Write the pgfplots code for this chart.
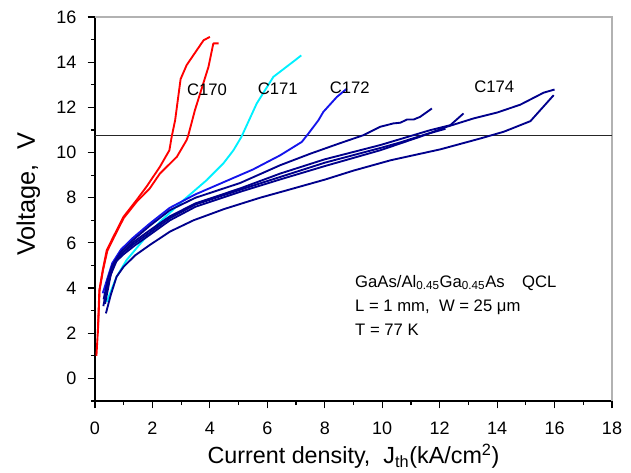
\documentclass[border=0pt]{standalone}
\usepackage{fontspec}
\setmainfont{Liberation Sans}
\usepackage{pgfplots}
\pgfplotsset{compat=1.18}
\definecolor{c170}{RGB}{255,0,0}
\definecolor{c171}{RGB}{0,240,255}
\definecolor{c172}{RGB}{20,20,235}
\definecolor{c174}{RGB}{0,0,140}

\begin{document}
\begin{tikzpicture}
\begin{axis}[
  name=main,
  scale only axis, width=387.75pt, height=288pt,
  xmin=0, xmax=18, ymin=-1, ymax=16,
  axis lines*=left, axis line style={-, line width=1.1pt},
  tick align=outside, major tick length=5.5pt, minor tick length=3pt,
  tick style={line width=0.9pt, black},
  xtick={0,2,...,18}, minor xtick={1,3,...,17},
  ytick={0,2,...,16}, minor ytick={-1,1,...,15},
  ticklabel style={font=\fontsize{13.5}{16}\selectfont},
  /pgf/number format/assume math mode=true,
  xticklabel shift=7pt, yticklabel shift=5pt,
  xlabel={Current density,\ \ J\textsubscript{th}(kA/cm\textsuperscript{2})},
  ylabel={Voltage,\ \ V},
  xlabel style={at={([yshift=-47pt]axis description cs:0.5,0)}, anchor=base,
    font=\fontsize{17.5}{20}\selectfont},
  ylabel style={at={([xshift=-45pt,yshift=11pt]axis description cs:0,0.5)}, anchor=base,
    rotate=0, font=\fontsize{19}{22}\selectfont},
  every axis plot/.append style={line width=1.4pt, line join=round},
  clip=false,
]
% frame on top and right
\draw[gray!60, line width=0.8pt] (rel axis cs:0,1) -- (rel axis cs:1,1) -- (rel axis cs:1,0);

% horizontal marker line
\addplot[black!85, line width=0.8pt] coordinates {(0,10.77) (18,10.77)};

% C170
\addplot[c170] coordinates {(0.05,1.0)(0.1,2.1)(0.15,3.9)(0.27,4.8)(0.41,5.68)(0.64,6.27)(0.99,7.15)(1.45,7.9)(1.8,8.5)(2.26,9.37)(2.59,10.1)(2.67,10.7)(2.79,11.43)(2.98,13.25)(3.19,13.87)(3.78,14.97)(4.0,15.12)};
\addplot[c170] coordinates {(0.1,2.0)(0.16,3.9)(0.28,4.8)(0.43,5.65)(0.66,6.25)(1.0,7.1)(1.45,7.82)(1.9,8.4)(2.26,9.07)(2.85,9.81)(3.19,10.55)(3.25,10.77)(3.48,11.88)(3.95,13.79)(4.12,14.83)(4.3,14.83)};

% C171
\addplot[c171] coordinates {(0.41,3.39)(0.75,4.5)(1.10,5.24)(1.68,6.12)(2.26,6.93)(3.08,7.89)(3.89,8.78)(4.47,9.52)(4.82,10.1)(5.1,10.7)(5.63,12.17)(6.21,13.35)(6.97,14.09)(7.18,14.3)};

% C172
\addplot[c172] coordinates {(0.27,3.77)(0.45,4.5)(0.6,5.1)(0.9,5.7)(1.3,6.2)(1.9,6.85)(2.6,7.55)(3.5,8.15)(4.5,8.7)(5.5,9.25)(6.45,9.88)(7.2,10.47)(7.43,10.84)(7.78,11.43)(7.95,11.8)(8.42,12.46)(8.77,12.83)};

% C174 group
\addplot[c174] coordinates {(0.3,3.5)(0.45,4.4)(0.6,5.0)(0.9,5.6)(1.3,6.1)(1.9,6.75)(2.61,7.45)(3.5,8.0)(5.05,8.65)(6.45,9.44)(7.5,9.95)(8.5,10.4)(9.35,10.77)(9.93,11.14)(10.39,11.29)(10.63,11.32)(10.86,11.46)(11.09,11.46)(11.32,11.58)(11.73,11.95)};
\addplot[c174] coordinates {(0.29,3.2)(0.45,4.2)(0.65,5.0)(0.9,5.5)(1.3,6.0)(1.9,6.55)(2.61,7.18)(3.5,7.75)(5.05,8.41)(6.45,9.07)(8.0,9.7)(9.93,10.33)(11.09,10.77)(11.67,10.99)(12.37,11.21)(12.83,11.73)};
\addplot[c174] coordinates {(0.33,3.4)(0.5,4.5)(0.7,5.2)(1.0,5.6)(1.4,6.0)(1.9,6.45)(2.61,7.1)(3.5,7.7)(5.05,8.35)(6.45,8.92)(8.0,9.55)(9.93,10.2)(10.63,10.45)(11.5,10.8)(12.2,11.05)};
\addplot[c174] coordinates {(0.35,3.3)(0.55,4.6)(0.75,5.2)(1.0,5.5)(1.4,5.9)(1.9,6.35)(2.61,7.0)(3.5,7.6)(5.05,8.26)(6.45,8.81)(8.0,9.4)(9.93,10.1)(11.32,10.7)(12.25,11.14)(13.18,11.51)(14.0,11.77)(14.81,12.12)(15.62,12.65)(16.0,12.79)};
\addplot[c174] coordinates {(0.38,2.88)(0.55,3.7)(0.75,4.5)(1.0,4.95)(1.4,5.45)(1.9,5.9)(2.61,6.5)(3.43,7.0)(4.5,7.5)(5.75,8.0)(6.6,8.3)(8.0,8.8)(9.0,9.2)(10.3,9.66)(12.02,10.14)(13.41,10.62)(14.23,10.92)(15.16,11.39)(15.97,12.54)};

% curve labels
\node[anchor=base, font=\fontsize{12.5}{15}\selectfont] at (axis cs:3.9,12.54) {C170};
\node[anchor=base, font=\fontsize{12.5}{15}\selectfont] at (axis cs:6.36,12.58) {C171};
\node[anchor=base, font=\fontsize{12.5}{15}\selectfont] at (axis cs:8.87,12.63) {C172};
\node[anchor=base, font=\fontsize{12.5}{15}\selectfont] at (axis cs:13.9,12.67) {C174};

% sample info
\node[anchor=base west, inner sep=0pt, font=\fontsize{12.5}{15}\selectfont] at (axis cs:9.05,4.04)
  {GaAs/Al\textsubscript{0.45}Ga\textsubscript{0.45}As\hspace{13pt}QCL};
\node[anchor=base west, inner sep=0pt, font=\fontsize{12.5}{15}\selectfont] at (axis cs:9.05,2.98)
  {L = 1 mm,\ \ W = 25 μm};
\node[anchor=base west, inner sep=0pt, font=\fontsize{12.5}{15}\selectfont] at (axis cs:9.05,1.88)
  {T = 77 K};
\end{axis}
\pgfresetboundingbox
\useasboundingbox ([xshift=-71.25pt,yshift=-53.25pt]main.south west) rectangle ([xshift=14.25pt,yshift=12.75pt]main.north east);
\end{tikzpicture}
\end{document}
